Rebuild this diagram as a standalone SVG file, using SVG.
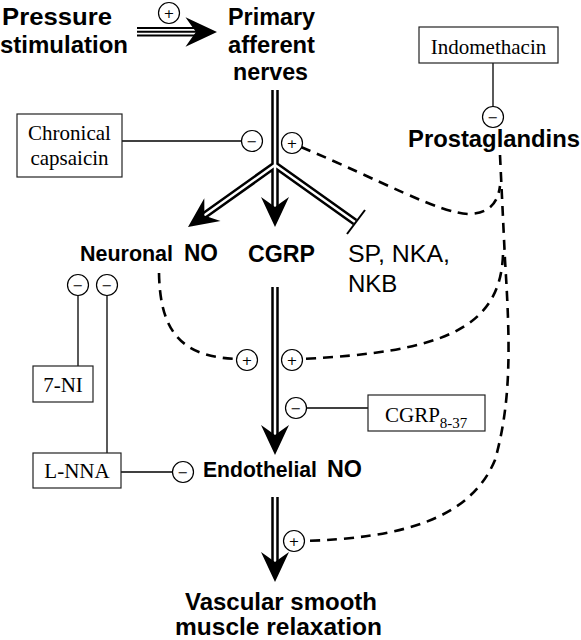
<svg xmlns="http://www.w3.org/2000/svg" xmlns:xlink="http://www.w3.org/1999/xlink" width="581" height="640" viewBox="0 0 581 640">
<style>
.bold{font-family:"Liberation Sans",Arial,sans-serif;font-weight:bold;fill:#000}
.reg{font-family:"Liberation Sans",Arial,sans-serif;fill:#000}
.serif{font-family:"Liberation Serif","Times New Roman",serif;fill:#000}
.box{fill:#fff;stroke:#222;stroke-width:1.2}
.thin{stroke:#000;stroke-width:1.3;fill:none}
.circ{fill:#fff;stroke:#000;stroke-width:1.2}
.sign{font-family:"DejaVu Sans",sans-serif;font-size:13px;text-anchor:middle;fill:#000}
.dash{fill:none;stroke:#000;stroke-width:2.6;stroke-dasharray:10,7}
.outer{fill:none;stroke:#000;stroke-width:7.5;stroke-linejoin:round}
.inner{fill:none;stroke:#fff;stroke-width:2.5;stroke-linejoin:round}
</style>
<defs>
<path id="head" d="M0,0 L-30,-14 Q-23,-4 -20,0 Q-23,4 -30,14 Z" fill="#000"/>
<g id="plus"><circle r="10.5" class="circ"/><text y="4.8" class="sign">+</text></g>
<g id="minus"><circle r="10.5" class="circ"/><text y="4.8" class="sign">−</text></g>
</defs>
<rect width="581" height="640" fill="#fff"/>

<g id="connectors">
<line x1="137" y1="28" x2="202" y2="28" stroke="#000" stroke-width="2"/>
<line x1="137" y1="31.8" x2="202" y2="31.8" stroke="#000" stroke-width="2"/>
<line x1="137" y1="35.6" x2="202" y2="35.6" stroke="#000" stroke-width="2"/>
<use xlink:href="#head" transform="translate(217,32) scale(1.05)"/>
<path class="outer" d="M275,90 L275,165 L202,217 M275,165 L275,210 M275,165 L355,222"/>
<path class="inner" d="M275,90 L275,165 L202,217 M275,165 L275,210 M275,165 L355,222"/>
<line x1="347" y1="234" x2="365" y2="210" stroke="#000" stroke-width="2"/>
<use xlink:href="#head" transform="translate(188,227) rotate(144.5)"/>
<use xlink:href="#head" transform="translate(275,227) rotate(90)"/>
<path class="outer" d="M275,287 L275,438"/>
<path class="inner" d="M275,287 L275,438"/>
<use xlink:href="#head" transform="translate(275,455) rotate(90)"/>
<path class="outer" d="M275,497 L275,565"/>
<path class="inner" d="M275,497 L275,565"/>
<use xlink:href="#head" transform="translate(275,582) rotate(90)"/>
<path class="dash" d="M301,147 C380,180 440,214 470,214 C490,213 498,202 500,186"/>
<path class="dash" d="M500,155 L505,260 C510,340 512,400 495,460 C470,520 400,538 304,541"/>
<path class="dash" d="M503,255 C500,330 440,352 302,359"/>
<path class="dash" d="M159,273 C160,330 180,357 237,359"/>
<line class="thin" x1="122" y1="141" x2="242" y2="141"/>
<line class="thin" x1="493" y1="63" x2="493" y2="107"/>
<line class="thin" x1="78" y1="295" x2="78" y2="366"/>
<line class="thin" x1="107" y1="295" x2="107" y2="453"/>
<line class="thin" x1="121" y1="472" x2="173" y2="472"/>
<line class="thin" x1="306" y1="408" x2="368" y2="408"/>
<use xlink:href="#plus" x="169" y="13"/>
<use xlink:href="#minus" x="252" y="141"/>
<use xlink:href="#plus" x="292" y="143"/>
<use xlink:href="#minus" x="493" y="117"/>
<use xlink:href="#minus" x="78" y="285"/>
<use xlink:href="#minus" x="107" y="285"/>
<use xlink:href="#plus" x="247" y="360"/>
<use xlink:href="#plus" x="292" y="360"/>
<use xlink:href="#minus" x="296" y="408"/>
<use xlink:href="#minus" x="183" y="472"/>
<use xlink:href="#plus" x="294" y="541"/>
</g>

<g id="pressure">
<text class="bold" font-size="24" x="2" y="25" textLength="110" lengthAdjust="spacingAndGlyphs">Pressure</text>
<text class="bold" font-size="24" x="0" y="53" textLength="128" lengthAdjust="spacingAndGlyphs">stimulation</text>
</g>
<g id="primary">
<text class="bold" font-size="24" x="228" y="25" textLength="87" lengthAdjust="spacingAndGlyphs">Primary</text>
<text class="bold" font-size="24" x="228" y="53" textLength="87" lengthAdjust="spacingAndGlyphs">afferent</text>
<text class="bold" font-size="24" x="233" y="80" textLength="75" lengthAdjust="spacingAndGlyphs">nerves</text>
</g>
<g id="indomethacin">
<rect class="box" x="419" y="27" width="139" height="36"/>
<text class="serif" font-size="21" x="488.5" y="54" text-anchor="middle">Indomethacin</text>
</g>
<g id="prostaglandins">
<text class="bold" font-size="24" x="408" y="147" textLength="172" lengthAdjust="spacingAndGlyphs">Prostaglandins</text>
</g>
<g id="capsaicin">
<rect class="box" x="17" y="114" width="105" height="63"/>
<text class="serif" font-size="21" x="69.5" y="140" text-anchor="middle">Chronical</text>
<text class="serif" font-size="21" x="69.5" y="165" text-anchor="middle">capsaicin</text>
</g>
<g id="neuronal-no">
<text class="bold" font-size="22" x="80" y="261" textLength="93" lengthAdjust="spacingAndGlyphs">Neuronal</text>
<text class="bold" font-size="24" x="184" y="261" textLength="34" lengthAdjust="spacingAndGlyphs">NO</text>
</g>
<g id="cgrp">
<text class="bold" font-size="24" x="248" y="262" textLength="67" lengthAdjust="spacingAndGlyphs">CGRP</text>
</g>
<g id="sp">
<text class="reg" font-size="24" x="348" y="262" textLength="102" lengthAdjust="spacingAndGlyphs">SP, NKA,</text>
<text class="reg" font-size="24" x="348" y="292">NKB</text>
</g>
<g id="seven-ni">
<rect class="box" x="33" y="366" width="60" height="36"/>
<text class="serif" font-size="21" x="63" y="392" text-anchor="middle">7-NI</text>
</g>
<g id="lnna">
<rect class="box" x="33" y="453" width="88" height="35"/>
<text class="serif" font-size="21" x="77" y="478" text-anchor="middle">L-NNA</text>
</g>
<g id="cgrp837">
<rect class="box" x="368" y="395" width="117" height="36"/>
<text class="serif" font-size="21" x="385" y="422">CGRP<tspan font-size="15" dy="6">8-37</tspan></text>
</g>
<g id="endothelial-no">
<text class="bold" font-size="22" x="203" y="477" textLength="114" lengthAdjust="spacingAndGlyphs">Endothelial</text>
<text class="bold" font-size="24" x="327" y="477" textLength="35" lengthAdjust="spacingAndGlyphs">NO</text>
</g>
<g id="vascular">
<text class="bold" font-size="24" x="185" y="610" textLength="192" lengthAdjust="spacingAndGlyphs">Vascular smooth</text>
<text class="bold" font-size="24" x="175" y="635" textLength="207" lengthAdjust="spacingAndGlyphs">muscle relaxation</text>
</g>
</svg>
